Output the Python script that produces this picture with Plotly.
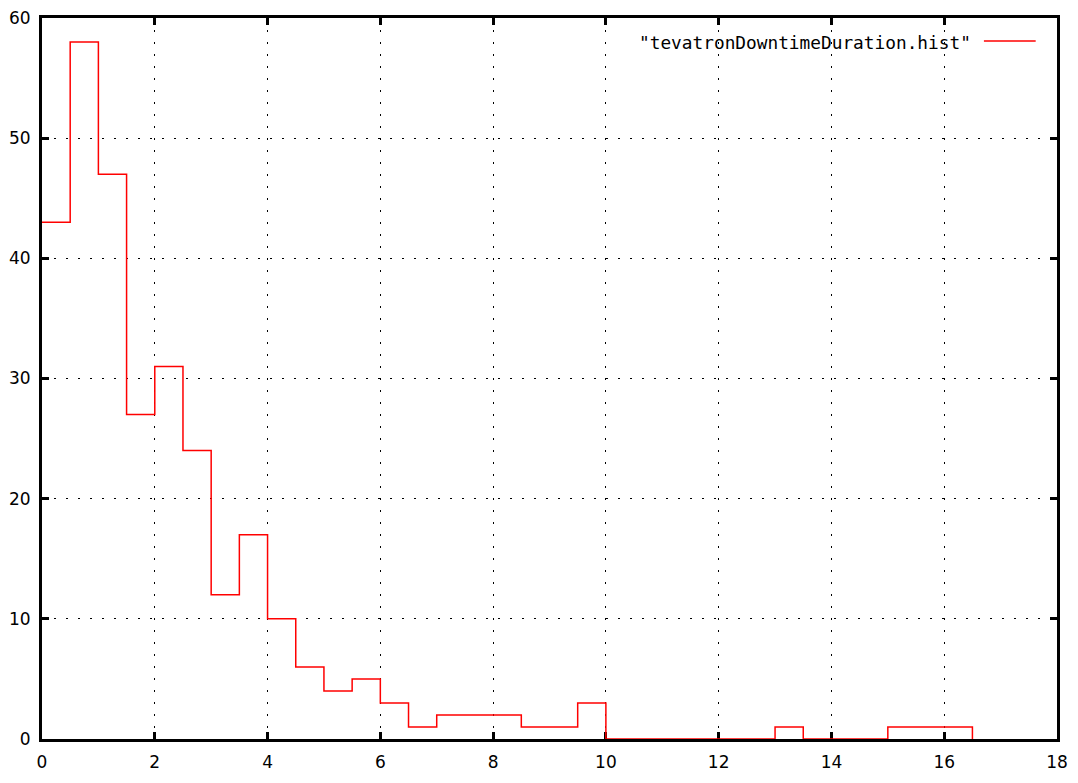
import plotly.graph_objects as go

bin_edges = [i * 0.5 for i in range(34)]  # 0 .. 16.5
counts = [43, 58, 47, 27, 31, 24, 12, 17, 10, 6, 4, 5, 3, 1, 2, 2, 2, 1, 1, 3,
          0, 0, 0, 0, 0, 0, 1, 0, 0, 0, 1, 1, 1]
series_name = '"tevatronDowntimeDuration.hist"'
x_ticks = list(range(0, 19, 2))
y_ticks = list(range(0, 61, 10))

y_vals = counts + [0]

fig = go.Figure()
fig.add_trace(go.Scatter(
    x=bin_edges, y=y_vals, mode="lines",
    line=dict(shape="hv", color="#ff0000", width=1.5),
    name=series_name, showlegend=False,
))

font = dict(family="DejaVu Sans", size=17, color="black")
axis_common = dict(
    showline=True, linecolor="black", linewidth=3, mirror="allticks",
    ticks="inside", ticklen=7, tickwidth=3, tickcolor="black",
    showgrid=True, gridcolor="black", gridwidth=1, griddash="2px,10px",
    zeroline=False, tickfont=font, layer="below traces", automargin=False,
    ticklabeloverflow="allow",
)
fig.update_xaxes(range=[0, 18], tickvals=x_ticks, ticklabelstandoff=6, **axis_common)
fig.update_yaxes(range=[0, 60], tickvals=y_ticks, ticklabelstandoff=5, **axis_common)

fig.add_annotation(
    xref="paper", yref="paper", x=0.917, y=0.966, xanchor="right", yanchor="middle",
    text=series_name, showarrow=False,
    font=dict(family="DejaVu Sans Mono", size=17.8, color="black"),
)
fig.add_shape(type="line", xref="paper", yref="paper",
              x0=0.928, x1=0.979, y0=0.968, y1=0.968,
              line=dict(color="#ff0000", width=1.5))

fig.update_layout(
    width=1070, height=775,
    margin=dict(l=34, r=21, t=10, b=44),
    paper_bgcolor="white", plot_bgcolor="white",
    showlegend=False,
)
fig.write_html("out.html")
